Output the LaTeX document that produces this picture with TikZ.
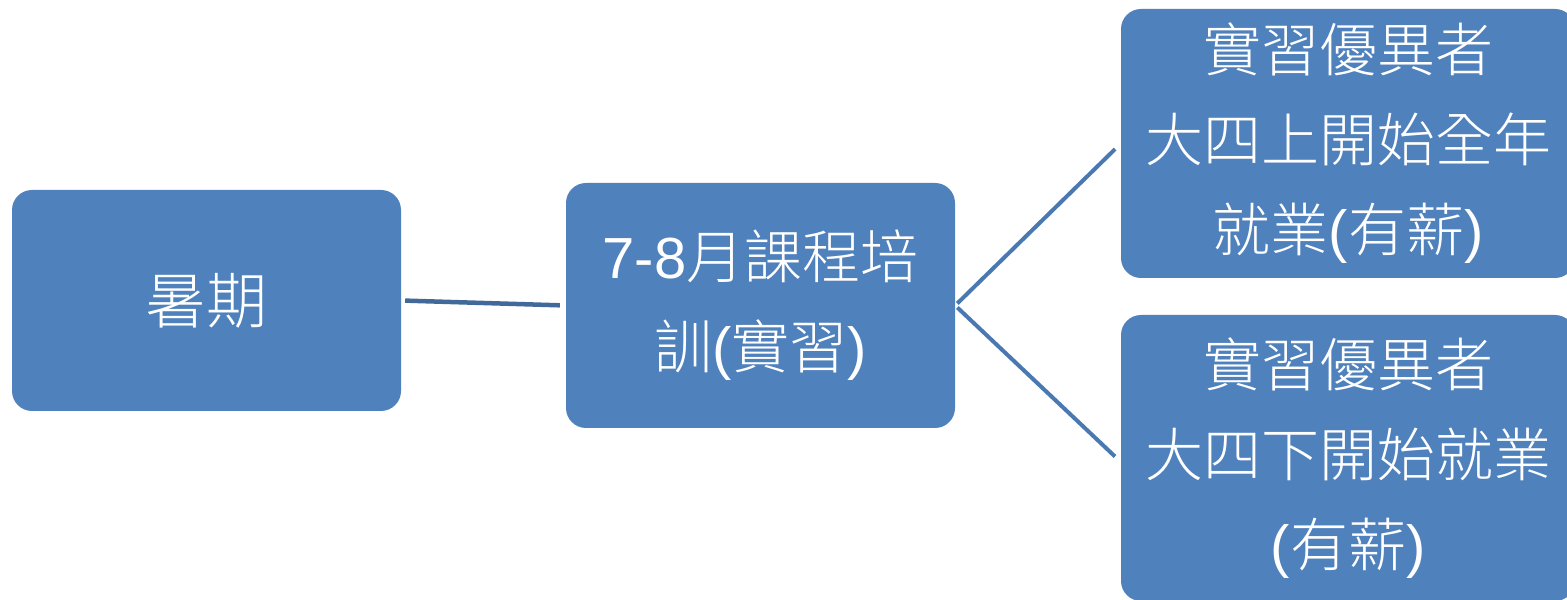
\documentclass[tikz,border=0pt]{standalone}
\usepackage{fontspec}
\setmainfont{Noto Sans CJK TC Light}
\newfontfamily\latf{Liberation Sans}
\newcommand{\lt}[1]{{\latf #1}}
\definecolor{boxblue}{HTML}{4F81BD}
\definecolor{linkA}{HTML}{41699A}
\definecolor{linkB}{HTML}{4A79B2}
\begin{document}
\begin{tikzpicture}[x=1pt,y=1pt,
  box/.style={fill=boxblue, draw=none, rounded corners=20pt, inner sep=0pt,
    text=white, align=center, font=\fontsize{58}{90}\selectfont},
  link/.style={line width=4.5pt}]
\useasboundingbox (0,0) rectangle (1567,600);
\begin{scope}
\clip (0,0) rectangle (1567,600);
\node[box, minimum width=389pt, minimum height=221pt, font=\fontsize{61}{90}\selectfont] (a) at (206.5,299.5) {暑期};
\node[box, minimum width=389pt, minimum height=245pt] (b) at (760.5,294.5) {\lt{7-8}月課程培\\訓\lt{(}實習\lt{)}};
\node[box, minimum width=454pt, minimum height=269pt] (c) at (1348,456.5) {實習優異者\\大四上開始全年\\就業\lt{(}有薪\lt{)}};
\node[box, minimum width=454pt, minimum height=286pt] (d) at (1348,142) {實習優異者\\大四下開始就業\\\lt{(}有薪\lt{)}};
\end{scope}
\draw[link, draw=linkA, shorten <=4pt, shorten >=6pt] (a.east) -- (b.west);
\draw[link, draw=linkB, line width=4pt, shorten <=3pt, shorten >=8pt] (b.east) -- (c.west);
\draw[link, draw=linkB, line width=4pt, shorten <=3pt, shorten >=8pt] (b.east) -- ([yshift=-4pt]d.west);
\end{tikzpicture}
\end{document}
